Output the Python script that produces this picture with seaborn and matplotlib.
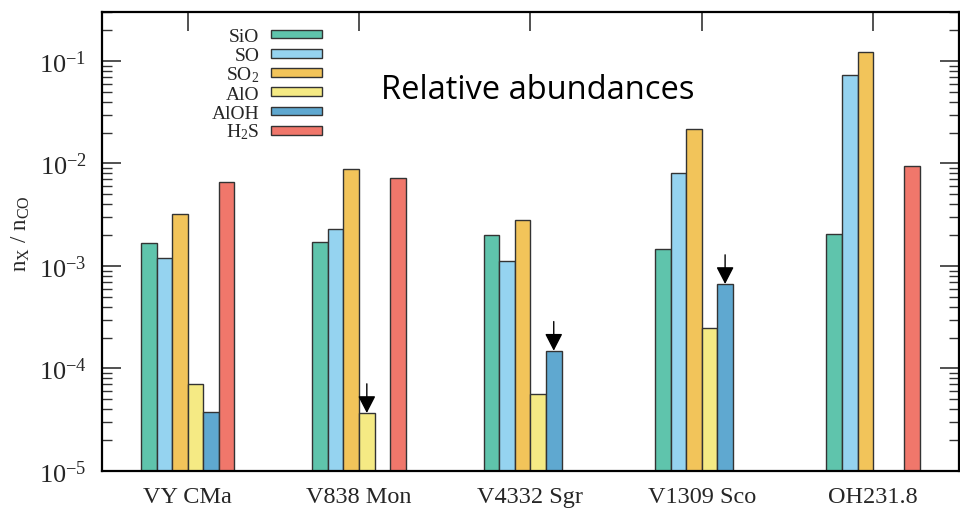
import numpy as np
import pandas as pd
import matplotlib
matplotlib.use("Agg")
import matplotlib.pyplot as plt
import seaborn as sns
from matplotlib.ticker import LogLocator, LogFormatterMathtext, NullFormatter
from matplotlib.patches import Patch, Rectangle
from matplotlib.legend_handler import HandlerPatch

# ---- data ----
objects = ["VY CMa", "V838 Mon", "V4332 Sgr", "V1309 Sco", "OH231.8"]
species = ["SiO", "SO", "SO2", "AlO", "AlOH", "H2S"]
species_labels = ["SiO", "SO", "SO$_2$", "AlO", "AlOH", "H$_2$S"]
SiO = [1.67e-3, 1.73e-3, 2.0e-3, 1.47e-3, 2.05e-3]
SO = [1.19e-3, 2.28e-3, 1.13e-3, 8.0e-3, 7.3e-2]
SO2 = [3.2e-3, 8.9e-3, 2.79e-3, 2.17e-2, 1.21e-1]
AlO = [7.06e-5, 3.68e-5, 5.67e-5, 2.47e-4, np.nan]
AlOH = [3.77e-5, np.nan, 1.49e-4, 6.67e-4, np.nan]
H2S = [6.6e-3, 7.16e-3, np.nan, np.nan, 9.46e-3]
upper_limits = [("V838 Mon", "AlO"), ("V4332 Sgr", "AlOH"), ("V1309 Sco", "AlOH")]
colors = ["#5FC4AC", "#95D3F0", "#F2C45A", "#F5EA84", "#5FA8D0", "#F0776B"]

rows = []
for sp, vals in zip(species, [SiO, SO, SO2, AlO, AlOH, H2S]):
    for obj, v in zip(objects, vals):
        rows.append({"object": obj, "species": sp, "value": v})
df = pd.DataFrame(rows)

sns.set_theme(style="ticks")
plt.rcParams["font.family"] = ["Liberation Serif", "DejaVu Serif"]
plt.rcParams["mathtext.fontset"] = "custom"
plt.rcParams["mathtext.rm"] = "Liberation Serif"
plt.rcParams["mathtext.it"] = "Liberation Serif:italic"
plt.rcParams["mathtext.default"] = "regular"

fig = plt.figure(figsize=(9.6, 5.1), dpi=100)
ax = fig.add_axes([0.10625, 0.0745, 0.8925, 0.9])
ax.set_yscale("log")

sns.barplot(data=df, x="object", y="value", hue="species", order=objects,
            hue_order=species, palette=colors, width=0.545, gap=0,
            edgecolor="#333333", linewidth=1.0, saturation=1, legend=False,
            ax=ax, errorbar=None)

ax.set_ylim(1e-5, 0.3)
ax.set_xlim(-0.5, len(objects) - 0.5)

# upper-limit arrows
for ci, sp in enumerate(species):
    cont = ax.containers[ci]
    for p in cont.patches:
        xc = p.get_x() + p.get_width() / 2
        obj = objects[int(round(xc))]
        if (obj, sp) in upper_limits:
            yt = p.get_y() + p.get_height()
            ax.annotate("", xy=(xc, yt), xytext=(0, 21), textcoords="offset points",
                        xycoords="data",
                        arrowprops=dict(arrowstyle="-|>,head_length=0.7,head_width=0.36",
                                        mutation_scale=15, color="black", lw=1.0,
                                        shrinkA=0, shrinkB=0))

# axes styling
for s in ax.spines.values():
    s.set_linewidth(1.6)
    s.set_color("black")
ax.yaxis.set_major_locator(LogLocator(base=10, numticks=10))
ax.yaxis.set_minor_locator(LogLocator(base=10, subs=np.arange(2, 10), numticks=10))
ax.yaxis.set_major_formatter(LogFormatterMathtext())
ax.yaxis.set_minor_formatter(NullFormatter())
ax.tick_params(axis="y", which="major", direction="in", length=14, width=1.2,
               right=True, left=True, labelsize=19, pad=11, color="#333333")
ax.tick_params(axis="y", which="minor", direction="in", length=7, width=1.0,
               right=True, left=True, color="#333333")
ax.tick_params(axis="x", which="major", direction="in", length=14, width=1.2,
               top=True, bottom=False, labelsize=17.5, pad=11, color="#333333")
ax.set_xlabel("")
ax.set_ylabel(r"n$_{\mathrm{X}}$ / n$_{\mathrm{CO}}$", fontsize=16.5)
ax.yaxis.set_label_coords(-0.082, 0.52)


# legend (gnuplot style: label then swatch)
def small_rect(legend, orig_handle, xdescent, ydescent, width, height, fontsize):
    h = 0.46 * fontsize
    return Rectangle((-xdescent, -ydescent + (height - h) / 2), width, h)


handles = [Patch(facecolor=c, edgecolor="#333333", linewidth=1.0) for c in colors]
leg = ax.legend(handles, species_labels, markerfirst=False, frameon=False,
                loc="upper left", bbox_to_anchor=(0.112, 1.0), fontsize=14,
                handlelength=2.6, handleheight=0.95, labelspacing=0.0,
                handletextpad=0.62, borderpad=0.2,
                handler_map={Patch: HandlerPatch(patch_func=small_rect)})
for t in leg.get_texts():
    t.set_ha("right")

ax.text(0.508, 0.831, "Relative abundances", transform=ax.transAxes,
        fontsize=23.5, family="Open Sans", ha="center", va="center", color="black")

fig.savefig("out.png", dpi=100)
